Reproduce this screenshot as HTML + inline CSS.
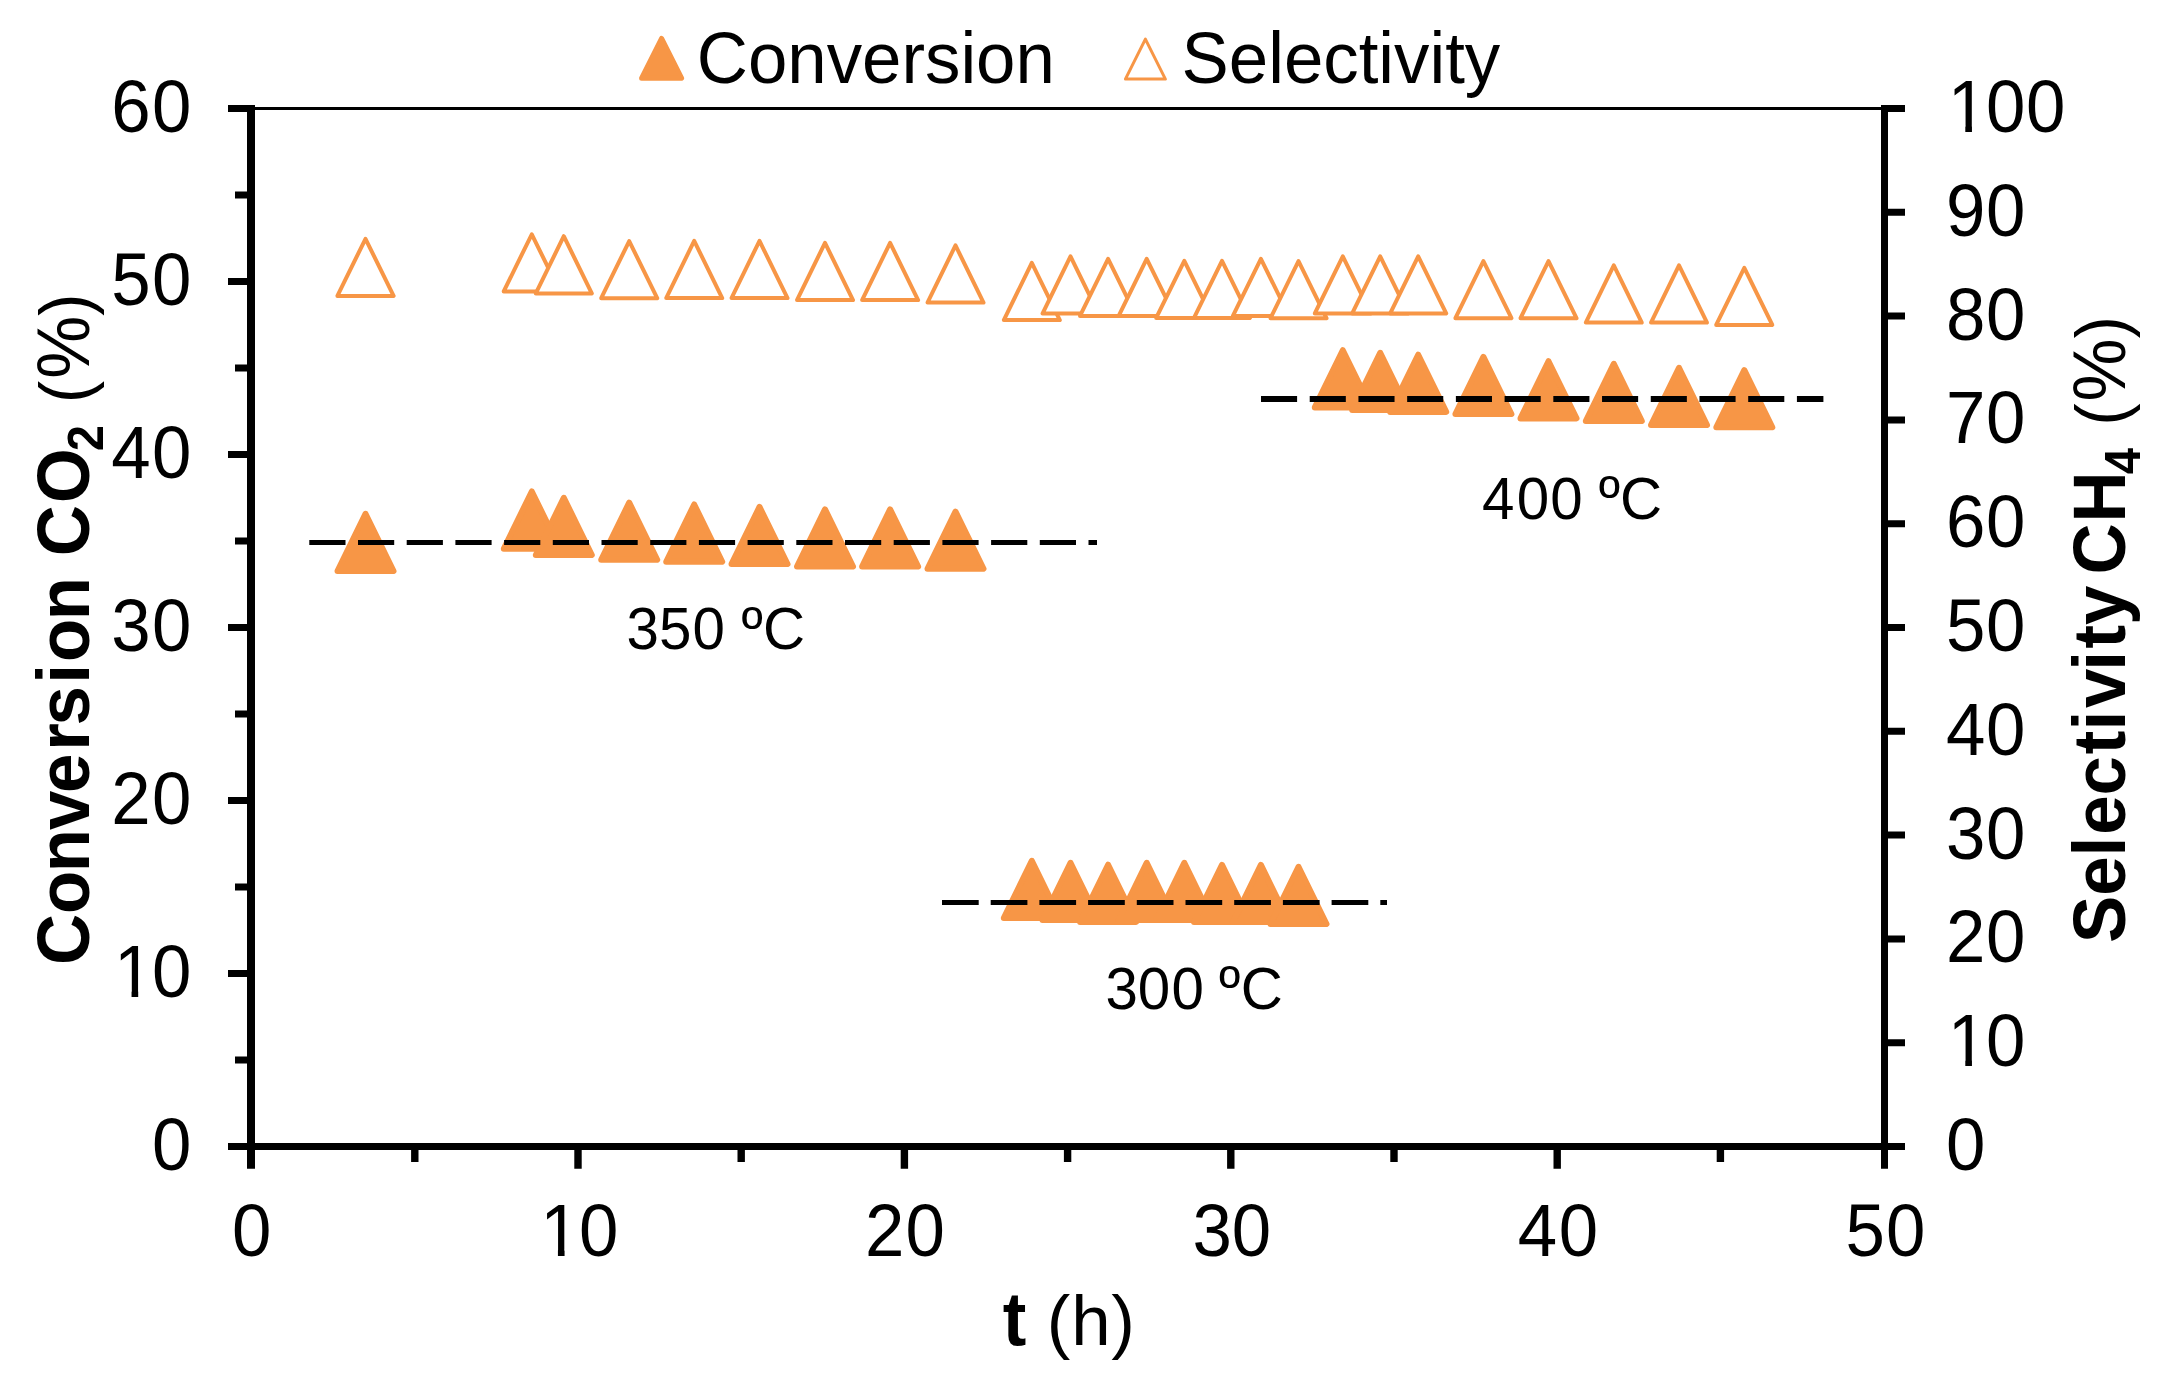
<!DOCTYPE html>
<html lang="en"><head><meta charset="utf-8"><title>Conversion and selectivity vs time</title>
<style>
html,body{margin:0;padding:0;background:#fff;}
body{width:2168px;height:1384px;overflow:hidden;}
svg{display:block;}
text{font-family:"Liberation Sans",Arial,Helvetica,sans-serif;fill:#000;}
.t{font-size:70.8px;}
.b{font-weight:bold;}
.ann{font-size:58.3px;}
.ax{stroke:#000;fill:none;stroke-linecap:butt;}
.cf{fill:#F79646;stroke:#F79646;stroke-width:6;stroke-linejoin:round;}
.sf{fill:#fff;stroke:#F79646;stroke-width:4;stroke-linejoin:round;}
.dl{stroke:#000;stroke-width:5.3;fill:none;stroke-dasharray:36.2 12.5;}
</style></head><body>
<svg width="2168" height="1384" viewBox="0 0 2168 1384">
<rect width="2168" height="1384" fill="#fff"/>
<g id="selectivity">
<path class="sf" d="M365.5 238.8L393.6 295.9L337.4 295.9Z"/>
<path class="sf" d="M531.8 234.3L559.8 291.4L503.7 291.4Z"/>
<path class="sf" d="M563.8 236.2L591.8 293.4L535.8 293.4Z"/>
<path class="sf" d="M629.2 241.1L657.2 298.2L601.2 298.2Z"/>
<path class="sf" d="M694.2 240.9L722.2 298.1L666.2 298.1Z"/>
<path class="sf" d="M759.5 240.9L787.5 298.1L731.5 298.1Z"/>
<path class="sf" d="M825.0 242.9L853.0 300.1L797.0 300.1Z"/>
<path class="sf" d="M890.1 242.9L918.1 300.1L862.1 300.1Z"/>
<path class="sf" d="M955.5 245.4L983.5 302.6L927.5 302.6Z"/>
<path class="sf" d="M1031.8 262.9L1059.8 320.1L1003.8 320.1Z"/>
<path class="sf" d="M1070.5 256.4L1098.5 313.6L1042.5 313.6Z"/>
<path class="sf" d="M1108.1 258.8L1136.1 315.9L1080.0 315.9Z"/>
<path class="sf" d="M1146.7 258.8L1174.8 315.9L1118.7 315.9Z"/>
<path class="sf" d="M1184.3 260.8L1212.3 317.9L1156.2 317.9Z"/>
<path class="sf" d="M1222.0 260.8L1250.0 317.9L1194.0 317.9Z"/>
<path class="sf" d="M1260.9 258.8L1289.0 315.9L1232.9 315.9Z"/>
<path class="sf" d="M1298.5 261.1L1326.5 318.2L1270.5 318.2Z"/>
<path class="sf" d="M1342.8 256.3L1370.8 313.4L1314.8 313.4Z"/>
<path class="sf" d="M1380.2 256.3L1408.2 313.4L1352.2 313.4Z"/>
<path class="sf" d="M1418.2 256.3L1446.2 313.4L1390.2 313.4Z"/>
<path class="sf" d="M1483.4 261.1L1511.5 318.2L1455.4 318.2Z"/>
<path class="sf" d="M1548.5 261.1L1576.5 318.2L1520.5 318.2Z"/>
<path class="sf" d="M1613.8 265.4L1641.8 322.6L1585.8 322.6Z"/>
<path class="sf" d="M1679.0 265.4L1707.0 322.6L1651.0 322.6Z"/>
<path class="sf" d="M1744.3 267.8L1772.3 324.9L1716.2 324.9Z"/>
</g>
<g id="conversion">
<path class="cf" d="M365.5 513.8L393.5 571.0L337.5 571.0Z"/>
<path class="cf" d="M531.8 491.5L559.8 548.7L503.8 548.7Z"/>
<path class="cf" d="M563.8 497.8L591.8 555.0L535.8 555.0Z"/>
<path class="cf" d="M629.2 502.6L657.2 559.8L601.2 559.8Z"/>
<path class="cf" d="M694.2 504.5L722.2 561.7L666.2 561.7Z"/>
<path class="cf" d="M759.5 506.9L787.5 564.1L731.5 564.1Z"/>
<path class="cf" d="M825.0 509.4L853.0 566.6L797.0 566.6Z"/>
<path class="cf" d="M890.1 509.4L918.1 566.6L862.1 566.6Z"/>
<path class="cf" d="M955.5 511.6L983.5 568.8L927.5 568.8Z"/>
<path class="cf" d="M1031.8 860.8L1059.8 918.0L1003.8 918.0Z"/>
<path class="cf" d="M1070.5 862.8L1098.5 920.0L1042.5 920.0Z"/>
<path class="cf" d="M1108.1 864.7L1136.1 921.9L1080.1 921.9Z"/>
<path class="cf" d="M1146.7 862.8L1174.7 920.0L1118.7 920.0Z"/>
<path class="cf" d="M1184.3 862.8L1212.3 920.0L1156.3 920.0Z"/>
<path class="cf" d="M1222.0 864.9L1250.0 922.1L1194.0 922.1Z"/>
<path class="cf" d="M1260.9 864.9L1288.9 922.1L1232.9 922.1Z"/>
<path class="cf" d="M1298.5 866.8L1326.5 924.0L1270.5 924.0Z"/>
<path class="cf" d="M1342.8 350.2L1370.8 407.4L1314.8 407.4Z"/>
<path class="cf" d="M1380.2 352.8L1408.2 410.0L1352.2 410.0Z"/>
<path class="cf" d="M1418.2 354.7L1446.2 411.9L1390.2 411.9Z"/>
<path class="cf" d="M1483.4 356.9L1511.4 414.1L1455.4 414.1Z"/>
<path class="cf" d="M1548.5 361.2L1576.5 418.4L1520.5 418.4Z"/>
<path class="cf" d="M1613.8 363.8L1641.8 421.0L1585.8 421.0Z"/>
<path class="cf" d="M1679.0 367.8L1707.0 425.0L1651.0 425.0Z"/>
<path class="cf" d="M1744.3 370.1L1772.3 427.3L1716.3 427.3Z"/>
</g>
<g id="guides">
<path class="dl" style="stroke-width:5.1" d="M309.3 542.5H1097"/>
<path class="dl" style="stroke-width:5.1;stroke-dasharray:36.7 12" d="M942 902.5H1387"/>
<path class="dl" style="stroke-width:6;stroke-dasharray:36.1 12.62" d="M1261 399H1823.4"/>
</g>
<g id="axes" class="ax">
<path stroke-width="2.8" d="M251.0 108.5H1884.5"/>
<path stroke-width="8" d="M251.0 105V1168.8"/>
<path stroke-width="7" d="M1884.5 105V1168.8"/>
<path stroke-width="7" d="M228 1146.5H1905"/>
<path stroke-width="7" d="M228 1146.50H251.0M228 973.50H251.0M228 800.50H251.0M228 627.50H251.0M228 454.50H251.0M228 281.50H251.0M228 108.50H251.0M235 1060.00H251.0M235 887.00H251.0M235 714.00H251.0M235 541.00H251.0M235 368.00H251.0M235 195.00H251.0"/>
<path stroke-width="7" d="M1884.5 1146.50H1905M1884.5 1042.70H1905M1884.5 938.90H1905M1884.5 835.10H1905M1884.5 731.30H1905M1884.5 627.50H1905M1884.5 523.70H1905M1884.5 419.90H1905M1884.5 316.10H1905M1884.5 212.30H1905M1884.5 108.50H1905"/>
<path stroke-width="7.4" d="M578.00 1146.5V1168.8M904.40 1146.5V1168.8M1230.80 1146.5V1168.8M1557.20 1146.5V1168.8M414.80 1146.5V1162M741.20 1146.5V1162M1067.60 1146.5V1162M1394.00 1146.5V1162M1720.40 1146.5V1162"/>
</g>
<g id="ticklabels" class="t">
<text transform="translate(151.6 1170.0) scale(1 1.040)"><tspan x="0.4">0</tspan></text>
<text transform="translate(112.2 997.0) scale(1 1.040)"><tspan x="1.7">1</tspan><tspan x="39.8">0</tspan></text>
<text transform="translate(112.2 824.0) scale(1 1.040)"><tspan x="-1.0">2</tspan><tspan x="39.8">0</tspan></text>
<text transform="translate(112.2 651.0) scale(1 1.040)"><tspan x="-1.0">3</tspan><tspan x="39.8">0</tspan></text>
<text transform="translate(112.2 478.0) scale(1 1.040)"><tspan x="-1.0">4</tspan><tspan x="39.8">0</tspan></text>
<text transform="translate(112.2 305.0) scale(1 1.040)"><tspan x="-1.0">5</tspan><tspan x="39.8">0</tspan></text>
<text transform="translate(112.2 132.0) scale(1 1.040)"><tspan x="-1.0">6</tspan><tspan x="39.8">0</tspan></text>
<text transform="translate(1946.0 1170.0) scale(1 1.040)"><tspan x="0.0">0</tspan></text>
<text transform="translate(1946.0 1066.2) scale(1 1.040)"><tspan x="1.7">1</tspan><tspan x="39.9">0</tspan></text>
<text transform="translate(1946.0 962.4) scale(1 1.040)"><tspan x="0.0">2</tspan><tspan x="39.9">0</tspan></text>
<text transform="translate(1946.0 858.6) scale(1 1.040)"><tspan x="0.0">3</tspan><tspan x="39.9">0</tspan></text>
<text transform="translate(1946.0 754.8) scale(1 1.040)"><tspan x="0.0">4</tspan><tspan x="39.9">0</tspan></text>
<text transform="translate(1946.0 651.0) scale(1 1.040)"><tspan x="0.0">5</tspan><tspan x="39.9">0</tspan></text>
<text transform="translate(1946.0 547.2) scale(1 1.040)"><tspan x="0.0">6</tspan><tspan x="39.9">0</tspan></text>
<text transform="translate(1946.0 443.4) scale(1 1.040)"><tspan x="0.0">7</tspan><tspan x="39.9">0</tspan></text>
<text transform="translate(1946.0 339.6) scale(1 1.040)"><tspan x="0.0">8</tspan><tspan x="39.9">0</tspan></text>
<text transform="translate(1946.0 235.8) scale(1 1.040)"><tspan x="0.0">9</tspan><tspan x="39.9">0</tspan></text>
<text transform="translate(1946.0 132.0) scale(1 1.040)"><tspan x="1.7">1</tspan><tspan x="39.9">0</tspan><tspan x="80.0">0</tspan></text>
<text transform="translate(231.9 1256.0) scale(1 1.040)"><tspan x="0.0">0</tspan></text>
<text transform="translate(538.6 1256.0) scale(1 1.040)"><tspan x="1.7">1</tspan><tspan x="40.3">0</tspan></text>
<text transform="translate(865.0 1256.0) scale(1 1.040)"><tspan x="0.0">2</tspan><tspan x="40.6">0</tspan></text>
<text transform="translate(1191.4 1256.0) scale(1 1.040)"><tspan x="1.1">3</tspan><tspan x="40.4">0</tspan></text>
<text transform="translate(1517.8 1256.0) scale(1 1.040)"><tspan x="0.0">4</tspan><tspan x="40.9">0</tspan></text>
<text transform="translate(1844.2 1256.0) scale(1 1.040)"><tspan x="1.2">5</tspan><tspan x="41.7">0</tspan></text>
</g>
<g id="one-foot-masks" fill="#fff">
<rect x="117.95" y="990.70" width="13.60" height="8.00"/>
<rect x="138.20" y="990.70" width="13.60" height="8.00"/>
<rect x="1951.70" y="1059.90" width="13.60" height="8.00"/>
<rect x="1971.95" y="1059.90" width="13.60" height="8.00"/>
<rect x="1951.70" y="125.70" width="13.60" height="8.00"/>
<rect x="1971.95" y="125.70" width="13.60" height="8.00"/>
<rect x="544.32" y="1249.70" width="13.60" height="8.00"/>
<rect x="564.57" y="1249.70" width="13.60" height="8.00"/>
</g>
<g id="titles" class="t">
<text transform="translate(1002.7 1345.0) scale(1 1.085)" class="b">t</text>
<text x="1046.8" y="1345.0">(<tspan dx="0.8">h</tspan><tspan dx="0.8">)</tspan></text>
<text transform="translate(88.5 965) rotate(-90) scale(1 1.040)" class="b"><tspan>Co</tspan><tspan dx="-1.5">n</tspan><tspan dx="-1">v</tspan><tspan dx="-2.5">e</tspan><tspan dx="3">r</tspan><tspan dx="-2.5">s</tspan><tspan dx="2.5">i</tspan><tspan dx="2">o</tspan><tspan dx="-1.5">n</tspan><tspan dx="1"> C</tspan><tspan dx="2">O</tspan><tspan font-size="47.2" dy="14.2" dx="-3">2</tspan><tspan dy="-14.2" dx="3" font-size="67.5" font-weight="normal"> (</tspan><tspan dx="1.8" font-weight="normal">%</tspan><tspan font-size="67.5" font-weight="normal">)</tspan></text>
<text transform="translate(2124.9 943) rotate(-90) scale(1 1.040)"><tspan class="b">Sel</tspan><tspan class="b" dx="2">ec</tspan><tspan class="b" dx="1.8">t</tspan><tspan class="b">i</tspan><tspan class="b" dx="2.9">v</tspan><tspan class="b" dx="-2.2">i</tspan><tspan class="b" dx="2.7">ty</tspan><tspan class="b" dx="-8.7"> C</tspan><tspan class="b" dx="1">H</tspan><tspan class="b" font-size="47.2" dy="14.2" dx="-3">4</tspan><tspan dy="-14.2" dx="3.5" font-size="67.5"> (</tspan><tspan dx="1.8">%</tspan><tspan font-size="67.5">)</tspan></text>
</g>
<g id="legend" class="t">
<path class="cf" style="stroke-width:5" d="M661.6 38.4L681.6 78.2L641.6 78.2Z"/>
<text transform="translate(696.8 83.0) scale(1 1.020)">Conversion</text>
<path class="sf" style="stroke-width:3" d="M1145.4 39.1L1165.4 79.1L1125.4 79.1Z"/>
<text transform="translate(1181.6 83.0) scale(1 1.020)">Selectivity</text>
</g>
<g id="annotations" class="ann">
<text x="626.5" y="649.4">35<tspan dx="1.2">0</tspan><tspan dx="0.4" dy="-1.5"> º</tspan><tspan dy="1.5">C</tspan></text>
<text x="1105.4" y="1008.6">30<tspan dx="1.2">0</tspan><tspan dx="-1.2" dy="-1.5"> º</tspan><tspan dx="0.6" dy="1.5">C</tspan></text>
<text x="1482.0" y="518.7">4<tspan dx="2.2">0</tspan><tspan dx="1.1">0</tspan><tspan dy="-1.5"> º</tspan><tspan dy="1.5">C</tspan></text>
</g>
</svg>
</body></html>
